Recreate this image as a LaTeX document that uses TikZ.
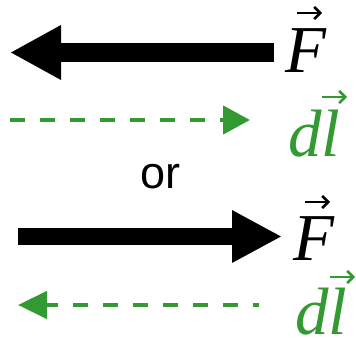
\documentclass[tikz,border=0pt]{standalone}
\usepackage{fontspec}
\setmainfont{Liberation Serif}
\newfontfamily\sansf{Liberation Sans}
\usetikzlibrary{arrows.meta}
\definecolor{vgreen}{RGB}{51,153,51}
\begin{document}
\begin{tikzpicture}[x=1pt,y=-1pt,
  force/.style={line width=#1, draw=black},
  disp/.style={line width=4.5pt, draw=vgreen, dash pattern=on 15pt off 15pt},
  vecarr/.style={line width=2.6pt, line cap=butt, -{Straight Barb[length=6pt,width=12pt,line width=2.6pt]}},
  lab/.style={inner sep=0pt, anchor=base west, font=\fontsize{67}{67}\selectfont\itshape},
  ortext/.style={inner sep=0pt, anchor=base west, font=\fontsize{45}{45}\selectfont\sansf}]
\useasboundingbox (0,0) rectangle (356,339);
% top pair
\coordinate (f1s) at (274,52.5);
\coordinate (f1e) at (10,52.5);
\draw[force=19pt, -{Triangle[length=51pt,width=51pt]}] (f1s) -- (f1e);
\node[lab] (F1) at (285,73) {F};
\draw[vecarr] ([shift={(12,-60)}]F1.base west) -- ++(25,0);
\coordinate (d1s) at (10,120);
\coordinate (d1e) at (250,120);
\draw[disp, -{Triangle[length=27pt,width=28pt]}] (d1s) -- (d1e);
\node[lab, text=vgreen] (L1) at (288,157) {dl};
\draw[vecarr, vgreen] ([shift={(34,-60)}]L1.base west) -- ++(25,0);
% or
\node[ortext] (or) at (140,189) {or};
% bottom pair
\coordinate (f2s) at (18,236.5);
\coordinate (f2e) at (282,236.5);
\draw[force=17pt, -{Triangle[length=50pt,width=49pt]}] (f2s) -- (f2e);
\node[lab] (F2) at (293,260) {F};
\draw[vecarr] ([shift={(12,-58)}]F2.base west) -- ++(25,0);
\coordinate (d2s) at (259,305);
\coordinate (d2e) at (18,305);
\draw[disp, dash phase=9pt, -{Triangle[length=29pt,width=27pt]}] (d2s) -- (d2e);
\node[lab, text=vgreen] (L2) at (295,334) {dl};
\draw[vecarr, vgreen] ([shift={(35,-57)}]L2.base west) -- ++(25,0);
\end{tikzpicture}
\end{document}
